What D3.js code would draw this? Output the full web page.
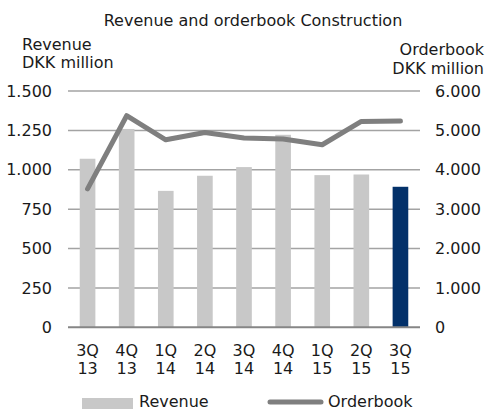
<!DOCTYPE html>
<html><head><meta charset="utf-8">
<script src="https://cdn.jsdelivr.net/npm/d3@7"></script>
<style>
html,body{margin:0;padding:0;background:#fff;}
text{font-family:Verdana,"DejaVu Sans",sans-serif;fill:#1a1a1a;}
</style></head>
<body><svg id="c" width="491" height="412"></svg>
<script>
const categories = [["3Q","13"],["4Q","13"],["1Q","14"],["2Q","14"],["3Q","14"],["4Q","14"],["1Q","15"],["2Q","15"],["3Q","15"]];
const revenue = [1070, 1259, 866, 962, 1017, 1222, 966, 970, 892];
const orderbook = [3516, 5372, 4762, 4948, 4805, 4780, 4635, 5228, 5240];
const leftTicks = [0, 250, 500, 750, 1000, 1250, 1500];
const rightTicks = [0, 1000, 2000, 3000, 4000, 5000, 6000];
const fmt = d => d3.format(",")(d).replace(/,/g, ".");
const FS = 16;

const svg = d3.select("#c");
const m = {left: 68, right: 420, top: 91, bottom: 327.3};
const x = d3.scaleBand().domain(d3.range(categories.length)).range([m.left, m.right]).paddingInner(0.6).paddingOuter(0.3);
const yL = d3.scaleLinear().domain([0, 1500]).range([m.bottom, m.top]);
const yR = d3.scaleLinear().domain([0, 6000]).range([m.bottom, m.top]);

svg.append("text").attr("x", 253).attr("y", 26).attr("text-anchor", "middle").attr("font-size", FS).text("Revenue and orderbook Construction");
svg.append("text").attr("x", 22).attr("y", 50).attr("font-size", FS).text("Revenue");
svg.append("text").attr("x", 22).attr("y", 68).attr("font-size", FS).text("DKK million");
svg.append("text").attr("x", 484).attr("y", 55).attr("text-anchor", "end").attr("font-size", FS).text("Orderbook");
svg.append("text").attr("x", 484).attr("y", 74).attr("text-anchor", "end").attr("font-size", FS).text("DKK million");

// gridlines
svg.append("g").selectAll("line").data(leftTicks.filter(d => d > 0)).join("line")
  .attr("x1", m.left).attr("x2", m.right)
  .attr("y1", d => yL(d)).attr("y2", d => yL(d))
  .attr("stroke", "#a3a3a3").attr("stroke-width", 1.5);

// left axis
const gl = svg.append("g").attr("transform", `translate(${m.left},0)`)
  .call(d3.axisLeft(yL).tickValues(leftTicks).tickFormat(fmt).tickSize(0).tickPadding(16));
gl.select(".domain").remove();
gl.selectAll("text").attr("font-size", FS).attr("font-family", "Verdana, 'DejaVu Sans', sans-serif").attr("fill", "#1a1a1a");

// right axis
const gr = svg.append("g").attr("transform", `translate(${m.right},0)`)
  .call(d3.axisRight(yR).tickValues(rightTicks).tickFormat(fmt).tickSize(0).tickPadding(15));
gr.select(".domain").remove();
gr.selectAll("text").attr("font-size", FS).attr("font-family", "Verdana, 'DejaVu Sans', sans-serif").attr("fill", "#1a1a1a");

// bars
svg.append("g").selectAll("rect").data(revenue).join("rect")
  .attr("x", (d, i) => x(i)).attr("width", x.bandwidth())
  .attr("y", d => yL(d)).attr("height", d => yL(0) - yL(d))
  .attr("fill", (d, i) => i === revenue.length - 1 ? "#03316a" : "#c8c8c8");

// baseline
svg.append("line").attr("x1", m.left).attr("x2", m.right).attr("y1", yL(0)).attr("y2", yL(0))
  .attr("stroke", "#868686").attr("stroke-width", 2);

// line
const line = d3.line().x((d, i) => x(i) + x.bandwidth() / 2).y(d => yR(d));
svg.append("path").datum(orderbook).attr("d", line).attr("fill", "none")
  .attr("stroke", "#7f7f7f").attr("stroke-width", 5).attr("stroke-linecap", "round").attr("stroke-linejoin", "round");

// x labels
const xl = svg.append("g").selectAll("text").data(categories).join("text")
  .attr("text-anchor", "middle").attr("font-size", FS)
  .attr("x", (d, i) => x(i) + x.bandwidth() / 2);
xl.append("tspan").attr("x", (d, i) => x(i) + x.bandwidth() / 2).attr("y", 356).text(d => d[0]);
xl.append("tspan").attr("x", (d, i) => x(i) + x.bandwidth() / 2).attr("y", 374).text(d => d[1]);

// legend
svg.append("rect").attr("x", 82).attr("y", 398).attr("width", 51).attr("height", 11).attr("fill", "#c8c8c8");
svg.append("text").attr("x", 139).attr("y", 407).attr("font-size", FS).text("Revenue");
svg.append("line").attr("x1", 270).attr("x2", 321).attr("y1", 402).attr("y2", 402)
  .attr("stroke", "#7f7f7f").attr("stroke-width", 5).attr("stroke-linecap", "round");
svg.append("text").attr("x", 328).attr("y", 407).attr("font-size", FS).text("Orderbook");
</script></body></html>
